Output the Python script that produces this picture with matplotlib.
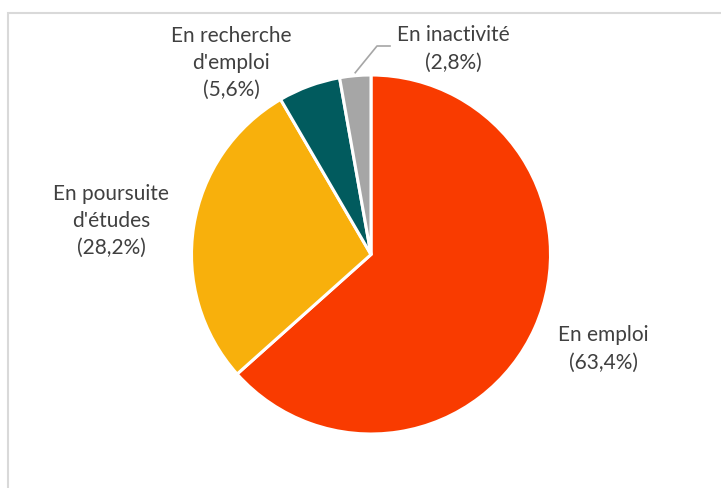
import matplotlib
matplotlib.use("Agg")
import matplotlib.pyplot as plt
import numpy as np
from matplotlib.patches import Rectangle

categories = ["En emploi", "En poursuite\nd'études", "En recherche\nd'emploi", "En inactivité"]
shares = [63.4, 28.2, 5.6, 2.8]
colors = ["#F93B00", "#F8B00C", "#015B5E", "#A6A6A6"]

# label centres in pixels (x, y from top)
label_pos = [(603, 349), (111, 221), (231, 63), (453, 49)]

W, H = 721, 489
fig = plt.figure(figsize=(W / 100, H / 100), dpi=100)
ax = fig.add_axes([0, 0, 1, 1])

# chart frame
fig.patches.append(Rectangle((8 / W, -0.1), 2, (H - 14) / H + 0.1,
                             transform=fig.transFigure, fill=False,
                             edgecolor="#D9D9D9", linewidth=1.5))

cx, cy, r = 371, H - 255.5, 179.5
wedges, _ = ax.pie(shares, colors=colors, startangle=90, counterclock=False,
                   center=(cx, cy), radius=r, frame=True,
                   wedgeprops=dict(edgecolor="white", linewidth=2.2))
ax.set_xlim(0, W)
ax.set_ylim(0, H)
ax.set_aspect("equal")
ax.axis("off")

for cat, val, (lx, ly) in zip(categories, shares, label_pos):
    txt = f"{cat}\n({val:.1f}%)".replace(".", ",")
    ax.text(lx, H - ly, txt, ha="center", va="center", fontsize=15,
            family="Lato", color="#404040", linespacing=1.45)

# leader line for the small slice
w = wedges[3]
mid = np.deg2rad((w.theta1 + w.theta2) / 2)
x0, y0 = cx + r * np.cos(mid), cy + r * np.sin(mid)
ax.plot([x0, 377, 390], [y0 + 3, H - 47, H - 47], color="#A6A6A6", lw=1.2)

fig.savefig("out.png", dpi=100)
